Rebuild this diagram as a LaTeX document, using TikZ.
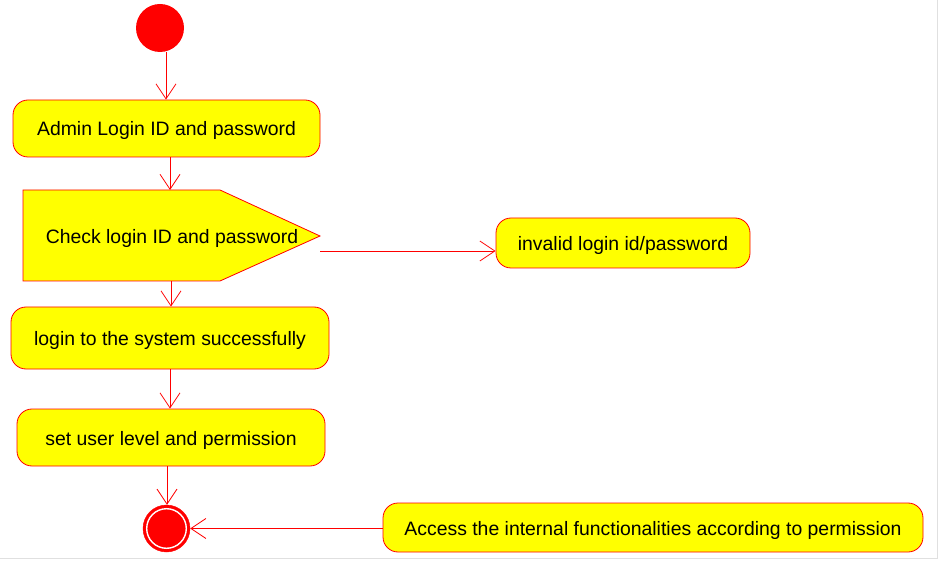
\documentclass[tikz,border=0pt]{standalone}
\usepackage{fontspec}
\setmainfont{Liberation Sans}
\usetikzlibrary{arrows.meta,calc}
\definecolor{uired}{RGB}{255,0,0}
\definecolor{uiyellow}{RGB}{255,255,0}
\begin{document}
\begin{tikzpicture}[x=1pt,y=-1pt,
  actfont/.style={font=\fontsize{19.4}{23}\selectfont,text height=18pt,text depth=3pt},
  act/.style={draw=uired,fill=uiyellow,rounded corners=15pt,inner sep=0pt,line width=0.8pt,actfont},
  arr/.style={draw=uired,line width=0.8pt,-{Straight Barb[length=15pt,width=20pt,line width=0.8pt]}}]
\useasboundingbox (0,0) rectangle (940,561);
\fill[white] (0,0) rectangle (940,561);
\draw[black!12,line width=1.2pt] (0,558.5) -- (937.5,558.5) -- (937.5,0);
% start
\node[circle,fill=uired,minimum size=48pt,inner sep=0pt] (start) at (160,28) {};
% activities
\node[act,minimum width=307pt,minimum height=57pt] (login) at (166.5,128.5) {Admin Login ID and password};
\fill[uiyellow,draw=uired,line width=0.8pt] (23,190) -- (220,190) -- (320,236) -- (220,281) -- (23,281) -- cycle;
\node[actfont,inner sep=0pt] (check) at (172,236) {Check login ID and password};
\coordinate (checktop) at (170,190);
\coordinate (checkbot) at (171,281);
\coordinate (checkout) at (320,251);
\node[act,minimum width=254pt,minimum height=50pt] (invalid) at (623,243) {invalid login id/password};
\node[act,minimum width=318pt,minimum height=62pt] (success) at (170,338) {login to the system successfully};
\node[act,minimum width=308pt,minimum height=57pt] (level) at (171,437.5) {set user level and permission};
\node[act,minimum width=540pt,minimum height=49pt] (access) at (653,527.5) {Access the internal functionalities according to permission};
% end
\node[circle,fill=uired,draw=uired,minimum size=47pt,inner sep=0pt] (end) at (166.5,528.5) {};
\draw[white,line width=1.4pt] (end.center) circle (19.8pt);
% connectors
\draw[arr] ([xshift=6pt]start.south) -- ([xshift=6pt]start.south |- login.north);
\draw[arr] ([xshift=3.5pt]login.south) -- (checktop);
\draw[arr] (checkout) -- (checkout -| invalid.west);
\draw[arr] (checkbot) -- (checkbot |- success.north);
\draw[arr] (success.south) -- (success.south |- level.north);
\draw[arr] ([xshift=-4pt]level.south) -- ([xshift=-4pt]level.south |- end.north);
\draw[arr] (access.west |- end.east) -- (end.east);
\end{tikzpicture}
\end{document}
